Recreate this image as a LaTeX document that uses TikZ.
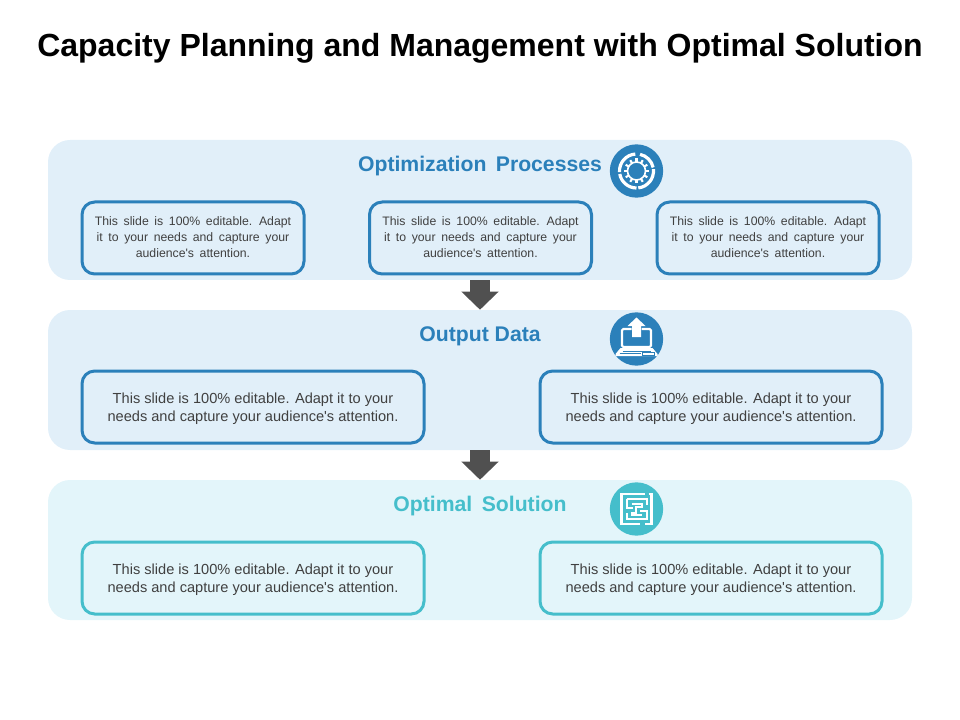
\documentclass[tikz,border=0pt]{standalone}
\usepackage{fontspec}
\setmainfont{Liberation Sans}
\newfontfamily\spacedfont[WordSpace=1.65]{Liberation Sans}
\usetikzlibrary{arrows.meta}
\definecolor{bluec}{HTML}{2B80BA}
\definecolor{tealc}{HTML}{45BECB}
\definecolor{bluep}{HTML}{E1EFF9}
\definecolor{tealp}{HTML}{E3F5FA}
\definecolor{txt}{HTML}{404040}
\definecolor{arr}{HTML}{505050}
\newcommand{\smalltxt}{This slide is 100\% editable. Adapt\\it to your needs and capture your\\audience\textquotesingle s attention.\rule[-1.5pt]{0pt}{0pt}}
\newcommand{\widetxt}{\rule{0pt}{11pt}This slide is 100\% editable. Adapt it to your\\needs and capture your audience\textquotesingle s attention.}
\tikzset{
 panel/.style={fill=#1,rounded corners=16.5pt,inner sep=0pt,minimum width=648pt,minimum height=105pt},
 card/.style={draw=#1,line width=2.25pt,rounded corners=9.5pt,inner sep=0pt,align=center,text=txt},
 small/.style={card=bluec,minimum width=166.5pt,minimum height=54pt,font=\spacedfont\fontsize{9.2}{12}\selectfont},
 wide/.style={card=#1,minimum width=256.5pt,minimum height=54pt,font=\fontsize{10.95}{13.5}\selectfont},
 head/.style={text=#1,font=\fontsize{15.9}{18}\bfseries\selectfont,inner sep=0pt,anchor=center},
 badge/.style={circle,fill=#1,minimum size=40pt,inner sep=0pt},
 flow/.style={arr,line width=14.5pt,-{Triangle[width=27pt,length=13.5pt]}},
 ico/.style={white,line width=1.5pt},
}
\begin{document}
\begin{tikzpicture}[x=0.75pt,y=-0.75pt]
\useasboundingbox (0,0) rectangle (960,720);
\node[font=\fontsize{24}{28}\bfseries\selectfont,text=black,inner sep=0pt] (title) at (480,48) {Capacity Planning and Management with Optimal Solution};
\node[panel=bluep] (p1) at (480,210) {};
\node[panel=bluep] (p2) at (480,380) {};
\node[panel=tealp] (p3) at (480,550) {};
\draw[flow] (p1.south) -- (p2.north);
\draw[flow] (p2.south) -- (p3.north);
\node[head=bluec] (h1) at (480,166) {Optimization\, Processes};
\node[head=bluec] (h2) at (480,336) {Output Data};
\node[head=tealc] (h3) at (480,506) {Optimal\, Solution};
\node[small] (a1) at (193,238) {\smalltxt};
\node[small] (a2) at (480.5,238) {\smalltxt};
\node[small] (a3) at (768,238) {\smalltxt};
\node[wide=bluec] (b1) at (253,407) {\widetxt};
\node[wide=bluec] (b2) at (711,407) {\widetxt};
\node[wide=tealc] (c1) at (253,578) {\widetxt};
\node[wide=tealc] (c2) at (711,578) {\widetxt};
% gear icon
\node[badge=bluec] (i1) at (636.5,171) {};
\begin{scope}[shift={(636.5,171)}]
 \foreach \s/\e in {-78/-12,-6/84,90/170,176/266}
  \draw[white,line width=2.4pt] (\s:17) arc[start angle=\s,end angle=\e,radius=17];
 \foreach \a in {0,30,...,330}
  \draw[white,line width=1.6pt] (\a:9) -- (\a:12.5);
 \draw[white,line width=1.2pt] (0,0) circle[radius=9];
\end{scope}
% laptop icon
\node[badge=bluec] (i2) at (636.5,339) {};
\begin{scope}[shift={(636.5,339)}]
 \draw[white,line width=1.6pt,rounded corners=1pt] (-5,-10) -- (-14.5,-10) -- (-14.5,8) -- (14.5,8) -- (14.5,-10) -- (5,-10);
 \fill[white] (-16,9) -- (16,9) -- (21,15) -- (21,17) -- (-21,17) -- (-21,15) -- cycle;
 \draw[bluec,line width=0.5pt] (-14,12) -- (14,12) (-17,14.5) -- (4,14.5);
 \draw[bluec,line width=0.5pt] (6,13) rectangle (18,16);
 \fill[white] (-4.5,-2) -- (4.5,-2) -- (4.5,-13) -- (9,-13) -- (0,-21.5) -- (-9,-13) -- (-4.5,-13) -- cycle;
\end{scope}
% maze icon
\node[badge=tealc] (i3) at (636.5,509) {};
\begin{scope}[shift={(636.5,509)}]
 \draw[ico,line width=1.9pt] (8,-15) -- (-15,-15) -- (-15,15) -- (3,15);
 \draw[ico,line width=1.9pt] (12,-15) -- (15,-15) -- (15,15) -- (8,15);
 \draw[ico] (-10,-10) -- (10,-10) -- (10,-4);
 \draw[ico] (-10,-10) -- (-10,-1) -- (-4,-1);
 \draw[ico] (-10,4) -- (-10,10) -- (10,10) -- (10,2) -- (3,2);
 \draw[ico] (-5,-5.5) -- (5,-5.5) -- (5,-2) -- (-1,-2) -- (-1,4) -- (-5,4) -- (-5,6) -- (5,6);
\end{scope}
\end{tikzpicture}
\end{document}
